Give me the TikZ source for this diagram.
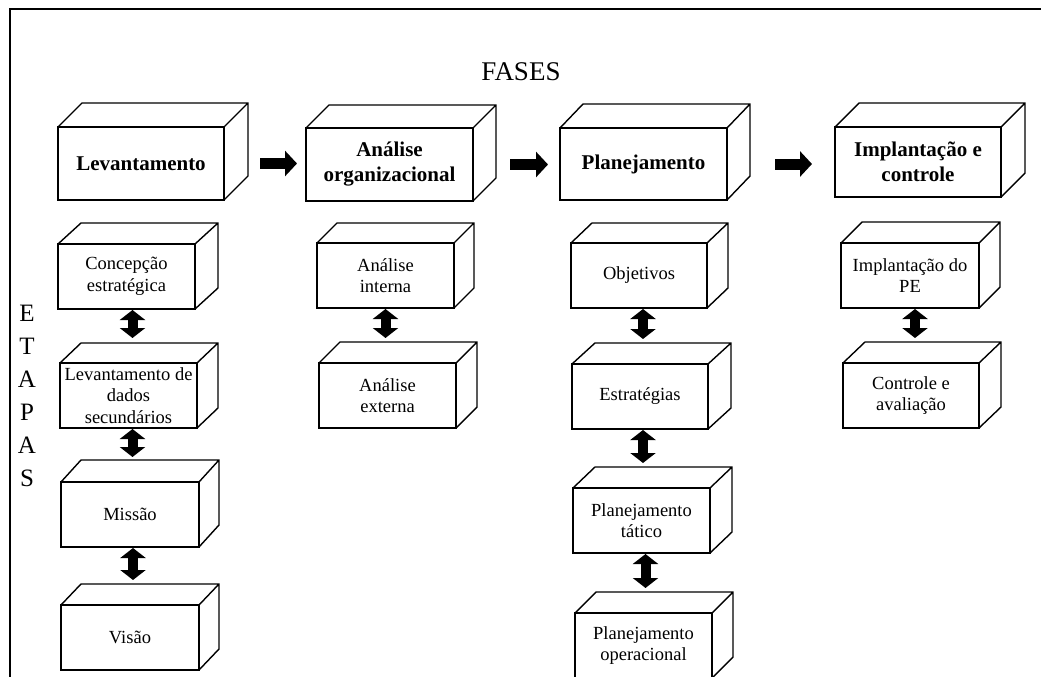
\documentclass[tikz,border=0pt]{standalone}
\usepackage{fontspec}
\setmainfont{Liberation Serif}
\usetikzlibrary{arrows.meta,calc}
\begin{document}
\begin{tikzpicture}[x=1pt,y=-1pt,
  box/.style={draw, line width=1.4pt, inner sep=0pt, outer sep=0pt, anchor=north west, align=center, fill=white},
  phase/.style={box, font=\bfseries\fontsize{21}{25}\selectfont},
  stage/.style={box, font=\fontsize{18.5}{21.5}\selectfont, minimum width=137pt, minimum height=65pt},
  fat/.style={line width=11pt, -{Triangle[length=12pt,width=25pt]}},
  dbl/.style={line width=10pt, {Triangle[length=10pt,width=25pt]}-{Triangle[length=10pt,width=25pt]}, shorten <=1pt, shorten >=25pt},
  edge3d/.style={line width=1.4pt, line join=miter}
]
\useasboundingbox (0,0) rectangle (1041,677);
\clip (0,0) rectangle (1041,677);
% frame
\draw[line width=1.6pt] (10,680) -- (10,9) -- (1045,9);
% titles
\node[font=\fontsize{27}{30}\selectfont] (fases) at (521,72) {FASES};
\node[font=\fontsize{25}{33}\selectfont, align=center, inner sep=0pt] (etapas) at (27,396) {E\\T\\A\\P\\A\\S};
% phases
\node[phase, minimum width=166pt, minimum height=73pt] (p1) at (58,127) {Levantamento};
\node[phase, minimum width=167pt, minimum height=73pt] (p2) at (306,128) {Análise\\organizacional};
\node[phase, minimum width=167pt, minimum height=72pt] (p3) at (560,128) {Planejamento};
\node[phase, minimum width=166pt, minimum height=70pt] (p4) at (835,127) {Implantação e\\controle};
% stages
\node[stage] (c1a) at (58,244) {Concepção\\estratégica};
\node[stage] (c1b) at (60,363) {Levantamento de\\dados\\secundários};
\node[stage, minimum width=138pt] (c1c) at (61,482) {Missão};
\node[stage, minimum width=138pt] (c1d) at (61,605) {Visão};
\node[stage] (c2a) at (317,243) {Análise\\interna};
\node[stage] (c2b) at (319,363) {Análise\\externa};
\node[stage, minimum width=136pt] (c3a) at (571,243) {Objetivos};
\node[stage, minimum width=136pt] (c3b) at (572,364) {Estratégias};
\node[stage] (c3c) at (573,488) {Planejamento\\tático};
\node[stage] (c3d) at (575,613) {Planejamento\\operacional};
\node[stage, minimum width=138pt] (c4a) at (841,243) {Implantação do\\PE};
\node[stage, minimum width=136pt] (c4b) at (843,363) {Controle e\\avaliação};
% 3D extrusions
\foreach \n/\dx/\dy in {p1/24/24, p2/23/23, p3/23/24, p4/24/24, c1a/23/21, c1b/21/20, c1c/20/22, c1d/20/21, c2a/20/20, c2b/21/21, c3a/21/20, c3b/23/21, c3c/22/21, c3d/21/21, c4a/21/21, c4b/22/21}{
  \draw[edge3d] (\n.north west) -- ++(\dx,-\dy) -- ($(\n.north east)+(\dx,-\dy)$) -- ($(\n.south east)+(\dx,-\dy)$) -- (\n.south east)
    (\n.north east) -- ++(\dx,-\dy);
}
% phase arrows
\draw[fat, shorten <=36pt, shorten >=9pt] (p1.east) -- (p1.east -| p2.west);
\draw[fat, shorten <=37pt, shorten >=12pt] (p2.east) -- (p2.east -| p3.west);
\draw[fat, shorten <=48pt, shorten >=23pt] (p3.east) -- (p3.east -| p4.west);
% stage arrows
\draw[dbl] ([xshift=6pt]c1a.south) -- ([xshift=6pt]c1a.south |- c1b.north);
\draw[dbl] ([xshift=4pt]c1b.south) -- ([xshift=4pt]c1b.south |- c1c.north);
\draw[dbl] ([xshift=3pt]c1c.south) -- ([xshift=3pt]c1c.south |- c1d.north);
\draw[dbl] (c2a.south) -- (c2a.south |- c2b.north);
\draw[dbl] ([xshift=4pt]c3a.south) -- ([xshift=4pt]c3a.south |- c3b.north);
\draw[dbl] ([xshift=3pt]c3b.south) -- ([xshift=3pt]c3b.south |- c3c.north);
\draw[dbl] ([xshift=4pt]c3c.south) -- ([xshift=4pt]c3c.south |- c3d.north);
\draw[dbl] ([xshift=5pt]c4a.south) -- ([xshift=5pt]c4a.south |- c4b.north);
\end{tikzpicture}
\end{document}
